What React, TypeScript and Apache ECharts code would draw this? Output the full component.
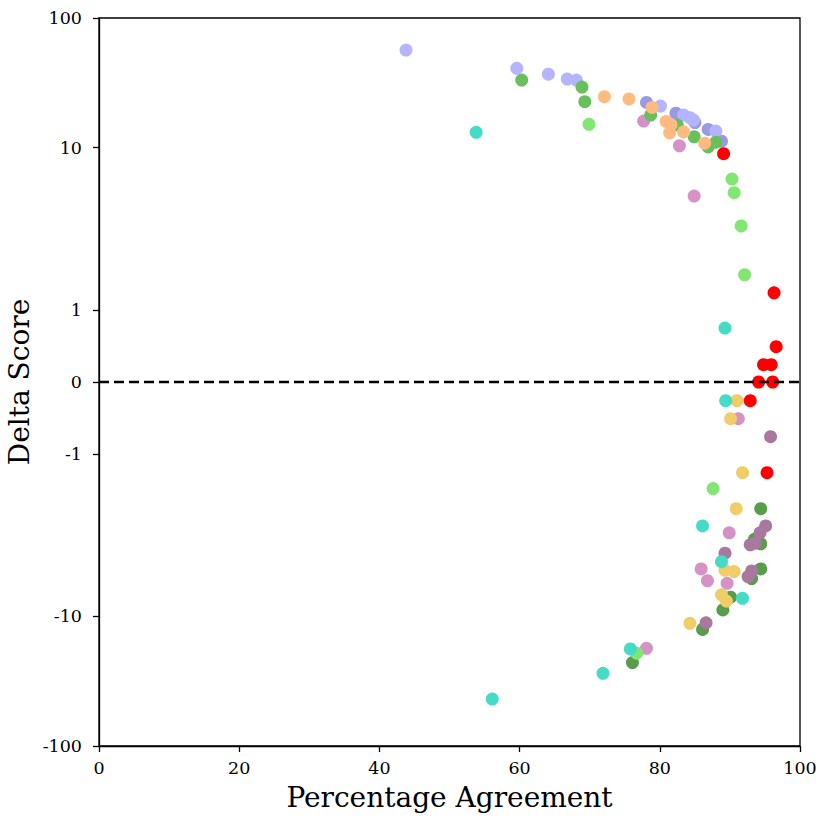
import { useEffect, useRef } from "react";
import * as echarts from "echarts";

// axis ticks
const xTicks = [0, 20, 40, 60, 80, 100];
const yTickLabels = [-100, -10, -1, 0, 1, 10, 100];

// series values: [Percentage Agreement, Delta Score]
const lavender = [
  [43.8, 56.6], [59.6, 40.9], [64.1, 36.8], [66.8, 33.8], [68.1, 33.2],
  [80.1, 20.9], [83.4, 17.8], [84.3, 17.0], [84.8, 16.3], [88.0, 13.4],
];
const periwinkle = [
  [78.1, 22.3], [82.3, 18.4], [85.0, 15.6], [86.9, 13.8], [88.8, 11.2],
];
const green = [
  [60.3, 33.2], [68.9, 29.3], [69.3, 22.6], [78.7, 17.8], [82.5, 14.9],
  [84.9, 12.1], [88.0, 11.0], [86.9, 10.1],
];
const lightGreen = [
  [69.9, 15.1], [90.3, 5.71], [90.6, 4.48], [91.6, 2.48], [92.1, 1.49],
  [87.6, -1.48], [76.7, -19.2],
];
const orange = [
  [72.1, 24.7], [75.6, 23.7], [78.9, 20.4], [80.9, 15.9], [81.6, 15.0],
  [81.4, 13.0], [83.4, 13.2], [86.4, 10.8],
];
const pink = [
  [77.7, 16.0], [82.8, 10.3], [84.9, 4.22], [91.2, -0.51], [89.9, -2.26],
  [85.9, -4.3], [86.8, -5.3], [89.6, -5.55], [78.1, -17.6],
];
const turquoise = [
  [53.8, 13.1], [89.3, 0.75], [89.4, -0.26], [86.1, -2.0], [88.8, -3.78],
  [91.8, -7.24], [75.8, -17.8], [71.9, -27.5], [56.1, -43.4],
];
const red = [
  [89.1, 8.97], [96.3, 1.24], [96.6, 0.49], [94.8, 0.24], [95.9, 0.24],
  [94.1, 0], [96.1, 0], [92.9, -0.26], [95.3, -1.26],
];
const yellow = [
  [91.0, -0.26], [90.1, -0.51], [91.8, -1.26], [90.9, -1.76], [89.3, -4.4],
  [90.6, -4.5], [88.8, -6.8], [89.5, -7.6], [84.3, -11.3],
];
const darkGreen = [
  [94.4, -1.76], [93.5, -2.54], [94.4, -2.75], [94.4, -4.3], [93.1, -5.1],
  [90.1, -7.1], [89.0, -8.9], [86.1, -12.6], [76.1, -22.7],
];
const mauve = [
  [95.8, -0.76], [95.1, -2.0], [94.3, -2.26], [93.6, -2.72], [92.9, -2.8],
  [89.3, -3.25], [93.1, -4.45], [92.6, -4.93], [86.6, -11.2],
];

// symlog transform (linthresh 2, linscale 1, base 10)
const LT = 2;
const LS = 1 / (1 - 1 / 10);
function symlog(v: number): number {
  const a = Math.abs(v);
  if (a <= LT) return v * LS;
  return Math.sign(v) * LT * (LS + Math.log10(a / LT));
}

const FONT = "DejaVu Serif";

export default function App() {
  const ref = useRef<HTMLDivElement>(null);
  useEffect(() => {
    document.body.style.margin = "0";
    if (!ref.current) return;
    const chart = echarts.init(ref.current, undefined, { renderer: "svg" });
    const yTickVals = yTickLabels.map(symlog);
    const groups = [
      { name: "periwinkle", color: "#9a9ae2", pts: periwinkle },
      { name: "lavender", color: "#b4b4ff", pts: lavender },
      { name: "pink", color: "#d492c6", pts: pink },
      { name: "green", color: "#68c05c", pts: green },
      { name: "orange", color: "#ffbb7f", pts: orange },
      { name: "darkGreen", color: "#579d4b", pts: darkGreen },
      { name: "lightGreen", color: "#82e673", pts: lightGreen },
      { name: "yellow", color: "#f1cd69", pts: yellow },
      { name: "mauve", color: "#a9789f", pts: mauve },
      { name: "turquoise", color: "#44dcc6", pts: turquoise },
      { name: "red", color: "#ff0000", pts: red },
    ];
    const series: any[] = groups.map((g) => ({
      name: g.name,
      type: "scatter",
      symbolSize: 13,
      itemStyle: { color: g.color, opacity: 1 },
      data: g.pts.map((p) => [p[0], symlog(p[1])]),
      z: 3,
    }));
    series.push({
      type: "line",
      data: [[xTicks[0], symlog(0)], [xTicks[xTicks.length - 1], symlog(0)]],
      symbol: "none",
      silent: true,
      lineStyle: { color: "#000", width: 2.4, type: [10, 5] },
      z: 10,
    });
    chart.setOption({
      animation: false,
      grid: {
        left: 99,
        right: 30,
        top: 18,
        bottom: 74,
        outerBoundsMode: "none",
        containLabel: false,
        show: true,
        borderColor: "#000",
        borderWidth: 1.3,
        backgroundColor: "transparent",
      },
      xAxis: {
        type: "value",
        min: xTicks[0],
        max: xTicks[xTicks.length - 1],
        interval: 20,
        name: "Percentage Agreement",
        nameLocation: "middle",
        nameGap: 37,
        nameMoveOverlap: false,
        nameTextStyle: { fontFamily: FONT, fontSize: 28, color: "#000" },
        axisLine: { show: true, onZero: false, lineStyle: { color: "#000", width: 1.3 } },
        axisTick: { show: true, length: 6, lineStyle: { color: "#000", width: 1.3 } },
        axisLabel: { fontFamily: FONT, fontSize: 17.5, color: "#000", margin: 13 },
        splitLine: { show: false },
      },
      yAxis: {
        type: "value",
        min: symlog(-100),
        max: symlog(100),
        name: "Delta Score",
        nameLocation: "middle",
        nameGap: 66,
        nameRotate: 90,
        nameMoveOverlap: false,
        nameTextStyle: { fontFamily: FONT, fontSize: 28, color: "#000" },
        axisLine: { show: true, onZero: false, lineStyle: { color: "#000", width: 1.3 } },
        axisTick: {
          show: true,
          length: 6,
          customValues: yTickVals,
          lineStyle: { color: "#000", width: 1.3 },
        },
        axisLabel: {
          fontFamily: FONT,
          fontSize: 17.5,
          color: "#000",
          margin: 17,
          customValues: yTickVals,
          formatter: (v: number) => {
            let best = yTickLabels[0];
            let bd = Infinity;
            yTickLabels.forEach((t) => {
              const d = Math.abs(symlog(t) - v);
              if (d < bd) { bd = d; best = t; }
            });
            return String(best);
          },
        },
        splitLine: { show: false },
      },
      series,
    });
    return () => chart.dispose();
  }, []);
  return <div ref={ref} style={{ width: 830, height: 820 }} />;
}
